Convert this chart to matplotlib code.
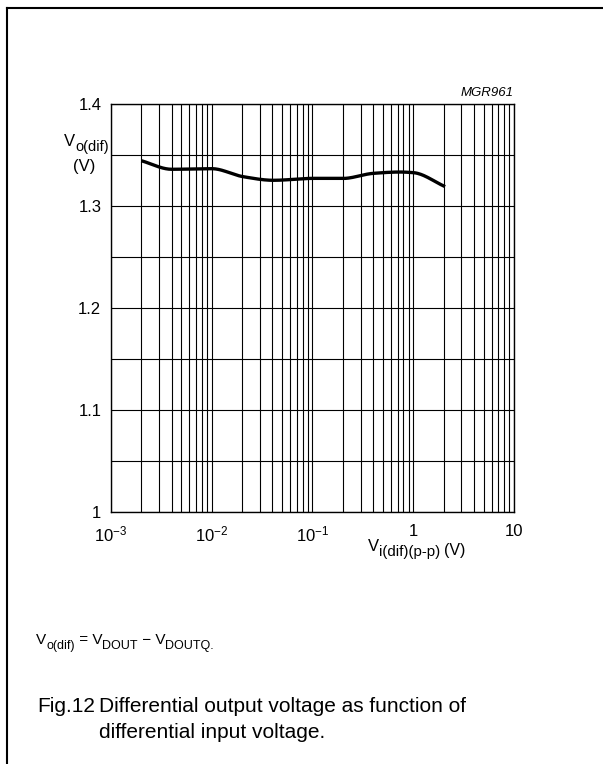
import numpy as np
import matplotlib
matplotlib.use('Agg')
import matplotlib.pyplot as plt
from matplotlib.ticker import FixedLocator, NullFormatter, LogLocator

plt.rcParams['font.family'] = ['Liberation Sans', 'DejaVu Sans']
plt.rcParams['mathtext.fontset'] = 'custom'
plt.rcParams['mathtext.rm'] = 'Liberation Sans'
plt.rcParams['mathtext.it'] = 'Liberation Sans:italic'

# curve
vin = [0.002, 0.004, 0.01, 0.0206, 0.0408, 0.102, 0.2, 0.4, 0.74, 1.0, 2.07]
vout = [1.3444, 1.336, 1.3366, 1.3287, 1.3252, 1.3271, 1.327, 1.332, 1.3333, 1.3327, 1.319]

x_ticks = [1e-3, 1e-2, 1e-1, 1, 10]
x_labels = ['10$^{-3}$', '10$^{-2}$', '10$^{-1}$', '1', '10']
y_ticks = [1.0, 1.1, 1.2, 1.3, 1.4]
y_labels = ['1', '1.1', '1.2', '1.3', '1.4']

W, H = 603, 764
fig = plt.figure(figsize=(W / 100, H / 100), dpi=100)
renderer = fig.canvas.get_renderer()

# page frame (left and top edges only)
fig.add_artist(plt.Line2D([7 / W, 7 / W], [0, 1 - 8 / H], color='black', lw=1.5))
fig.add_artist(plt.Line2D([7 / W, 1], [1 - 8 / H, 1 - 8 / H], color='black', lw=1.5))

left, right, top, bottom = 111, 514, 104, 512
ax = fig.add_axes([left / W, 1 - bottom / H, (right - left) / W, (bottom - top) / H])


def pchip(x, y, xn):
    x = np.asarray(x); y = np.asarray(y)
    h = np.diff(x); d = np.diff(y) / h
    m = np.zeros_like(y)
    m[0], m[-1] = d[0], d[-1]
    for i in range(1, len(y) - 1):
        if d[i - 1] * d[i] <= 0:
            m[i] = 0
        else:
            w1 = 2 * h[i] + h[i - 1]; w2 = h[i] + 2 * h[i - 1]
            m[i] = (w1 + w2) / (w1 / d[i - 1] + w2 / d[i])
    out = np.empty_like(xn)
    for k, xv in enumerate(xn):
        i = min(max(np.searchsorted(x, xv) - 1, 0), len(x) - 2)
        t = (xv - x[i]) / h[i]
        h00 = 2 * t**3 - 3 * t**2 + 1; h10 = t**3 - 2 * t**2 + t
        h01 = -2 * t**3 + 3 * t**2; h11 = t**3 - t**2
        out[k] = h00 * y[i] + h10 * h[i] * m[i] + h01 * y[i + 1] + h11 * h[i] * m[i + 1]
    return out


lx = np.log10(vin)
xs = np.linspace(lx[0], lx[-1], 300)
ys = pchip(lx, vout, xs)
ax.plot(10 ** xs, ys, color='black', lw=2.4, solid_capstyle='butt', zorder=3)

ax.set_xscale('log')
ax.set_xlim(1e-3, 10)
ax.set_ylim(1.0, 1.4)
ax.xaxis.set_major_locator(FixedLocator(x_ticks))
ax.set_xticklabels(x_labels)
ax.xaxis.set_minor_locator(LogLocator(base=10, subs=np.arange(2, 10)))
ax.xaxis.set_minor_formatter(NullFormatter())
ax.set_yticks(y_ticks)
ax.set_yticklabels(y_labels)
ax.set_yticks(np.arange(1.05, 1.4, 0.1), minor=True)
ax.grid(True, which='both', color='black', lw=0.8)
ax.tick_params(which='both', length=0, labelsize=12)
ax.tick_params(axis='y', pad=7)
ax.tick_params(axis='x', pad=9)
for s in ax.spines.values():
    s.set_linewidth(1.0)


def sub_text(x, y, parts, size, sub_scale=0.82, drop=0.3):
    # draws base text with subscripts, x,y are pixel coords of the baseline start
    for s, is_sub in parts:
        fs = size * sub_scale if is_sub else size
        yy = y + (size * drop * 100 / 72 if is_sub else 0)
        t = fig.text(x / W, 1 - yy / H, s, fontsize=fs, ha='left', va='baseline')
        x += t.get_window_extent(renderer).width
    return x


fig.text(514 / W, 1 - 93 / H, 'MGR961', ha='right', va='center', fontsize=9.5, style='italic')

# y axis label
sub_text(64, 146, [('V', False), ('o(dif)', True)], 12, sub_scale=0.88)
fig.text(84 / W, 1 - 167 / H, '(V)', ha='center', va='center', fontsize=12)

# x axis label
xe = sub_text(368, 551, [('V', False), ('i(dif)(p-p)', True)], 12, sub_scale=0.9)
fig.text((xe + 4) / W, 1 - 555 / H, '(V)', ha='left', va='baseline', fontsize=11.5)

# footnote
sub_text(36, 644, [('V', False), ('o(dif)', True), (' = V', False), ('DOUT', True),
                   (' \u2212 V', False), ('DOUTQ.', True)], 11)

# caption
fig.text(37 / W, 1 - 712 / H, 'Fig.12', ha='left', va='baseline', fontsize=15)
fig.text(99 / W, 1 - 712 / H, 'Differential output voltage as function of',
         ha='left', va='baseline', fontsize=15)
fig.text(99 / W, 1 - 738 / H, 'differential input voltage.',
         ha='left', va='baseline', fontsize=15)

fig.savefig('out.png', dpi=100)
